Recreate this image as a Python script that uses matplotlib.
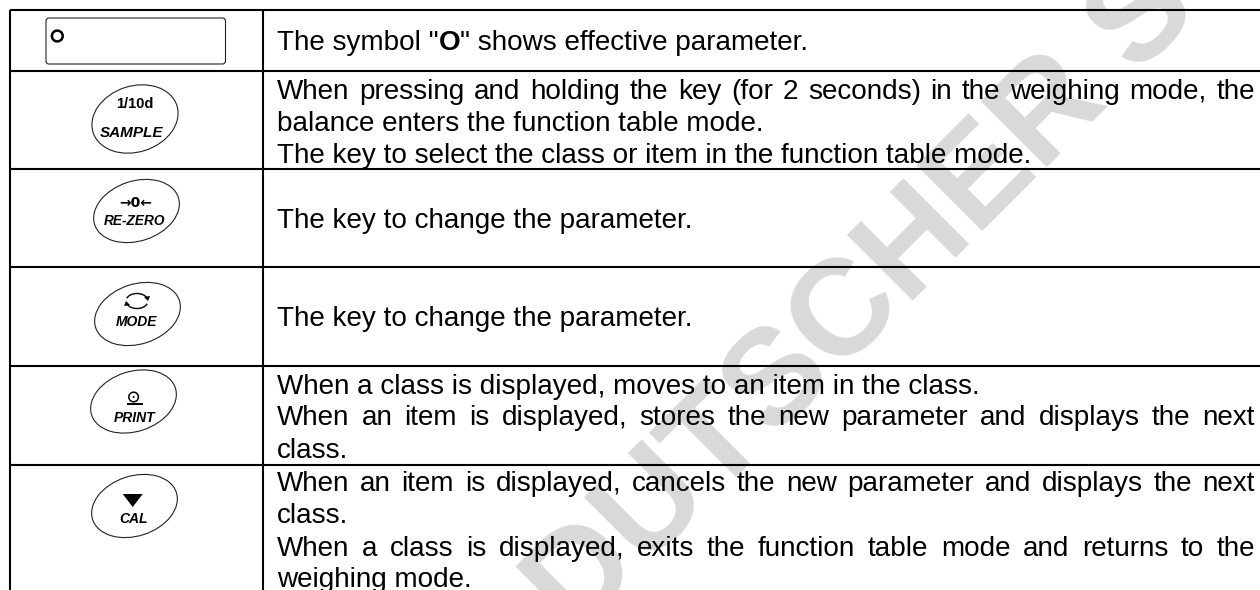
import matplotlib
matplotlib.use('Agg')
import matplotlib.pyplot as plt
from matplotlib.patches import Ellipse, FancyBboxPatch, Polygon, Circle, Arc

plt.rcParams['font.family'] = ['Liberation Sans', 'DejaVu Sans']

row_lines = [10, 71, 169, 266.5, 366, 465]
col_lines = [10, 263]

# key caption, centre of the oval, height of the oval
keys = ['SAMPLE', 'RE-ZERO', 'MODE', 'PRINT', 'CAL']
key_x = [135, 136.5, 137.5, 133.5, 134.5]
key_y = [119, 211, 314, 401.5, 506]
key_h = [66, 60, 60, 60, 60]
key_caption_x = [131.5, 135, 136.5, 134.5, 133.5]
key_caption_y = [137, 225, 326.5, 422.5, 523]
key_caption_size = [11, 9.8, 10, 10, 10]

# baseline of each text line, and whether it is stretched to the right edge
line_y = [99, 131, 163, 228, 326, 394, 425, 458, 491, 523, 556, 587]
line_text = [
    'When pressing and holding the key (for 2 seconds) in the weighing mode, the',
    'balance enters the function table mode.',
    'The key to select the class or item in the function table mode.',
    'The key to change the parameter.',
    'The key to change the parameter.',
    'When a class is displayed, moves to an item in the class.',
    'When an item is displayed, stores the new parameter and displays the next',
    'class.',
    'When an item is displayed, cancels the new parameter and displays the next',
    'class.',
    'When a class is displayed, exits the function table mode and returns to the',
    'weighing mode.',
]
line_just = [True, False, False, False, False, False, True, False, True, False, True, False]

right_edge = 1255
left_edge = 277
text_size = 20.1

fig = plt.figure(figsize=(12.6, 5.9), dpi=100)
ax = fig.add_axes([0, 0, 1, 1])
ax.set_xlim(0, 1260)
ax.set_ylim(590, 0)
ax.axis('off')

# watermark under everything
ax.text(864, 301, 'DUTSCHER S', fontsize=98, fontweight='bold', color='#d9d9d9', rotation=45,
        rotation_mode='anchor', ha='center', va='center', zorder=0)

for y in row_lines:
    ax.plot([col_lines[0], 1260], [y, y], color='black', lw=1.5, solid_capstyle='butt', zorder=2)
for x in col_lines:
    ax.plot([x, x], [row_lines[0], 590], color='black', lw=1.5, solid_capstyle='butt', zorder=2)

renderer = fig.canvas.get_renderer()


def text_width(s, **kw):
    t = ax.text(0, 0, s, fontsize=text_size, **kw)
    w = t.get_window_extent(renderer).width
    t.remove()
    return w


for y, s, just in zip(line_y, line_text, line_just):
    if not just:
        ax.text(left_edge, y, s, fontsize=text_size, va='baseline', zorder=3)
        continue
    words = s.split(' ')
    widths = [text_width(w) for w in words]
    gap = (right_edge - left_edge - sum(widths)) / (len(words) - 1)
    x = left_edge
    for w, wd in zip(words, widths):
        ax.text(x, y, w, fontsize=text_size, va='baseline', zorder=3)
        x += wd + gap

# first row has a bold O inside the sentence
x = left_edge
ax.text(x, 50, 'The symbol "', fontsize=text_size, va='baseline', zorder=3)
x += text_width('The symbol "')
ax.text(x, 50, 'O', fontsize=text_size, fontweight='bold', va='baseline', zorder=3)
x += text_width('O', fontweight='bold')
ax.text(x, 50, '" shows effective parameter.', fontsize=text_size, va='baseline', zorder=3)

# display box
ax.add_patch(FancyBboxPatch((46, 18), 179.5, 46, boxstyle='round,pad=0,rounding_size=3',
                            fc='none', ec='#222222', lw=0.8, zorder=3))
ax.add_patch(Circle((57.3, 36), 5.4, fc='none', ec='black', lw=1.8, zorder=3))

# key ovals
for name, x, y, h, cx, cy, size in zip(keys, key_x, key_y, key_h, key_caption_x,
                                       key_caption_y, key_caption_size):
    ax.add_patch(Ellipse((x, y), 88, h, angle=-18, fc='none', ec='#222222', lw=0.8, zorder=3))
    ax.text(cx, cy, name, fontsize=size, fontstyle='italic', fontweight='bold',
            ha='center', va='baseline', zorder=3)

ax.text(135, 108, '1/10d', fontsize=10.5, fontweight='bold', ha='center', va='baseline', zorder=3)
ax.text(136, 207, '\u21920\u2190', fontsize=10, fontweight='bold', ha='center', va='baseline',
        family=['DejaVu Sans'], zorder=3)
# mode arrows
ax.add_patch(Arc((137, 301), 22, 15, theta1=195, theta2=345, lw=1, zorder=3))
ax.add_patch(Arc((137, 301), 22, 15, theta1=15, theta2=165, lw=1, zorder=3))
ax.add_patch(Polygon([(144, 297), (150, 296), (148, 301)], fc='black', ec='none', zorder=3))
ax.add_patch(Polygon([(130, 305), (124, 306), (126, 301)], fc='black', ec='none', zorder=3))
# print symbol
ax.add_patch(Circle((133.6, 397), 4.8, fc='none', ec='black', lw=1.1, zorder=3))
ax.add_patch(Circle((133.6, 397), 1, fc='black', ec='none', zorder=3))
ax.plot([128, 142], [404, 404], color='black', lw=1.4, zorder=3)
ax.add_patch(Polygon([(122.7, 494), (142.7, 494), (132.7, 507)], fc='black', ec='none', zorder=3))

fig.savefig('out.png', dpi=100)
